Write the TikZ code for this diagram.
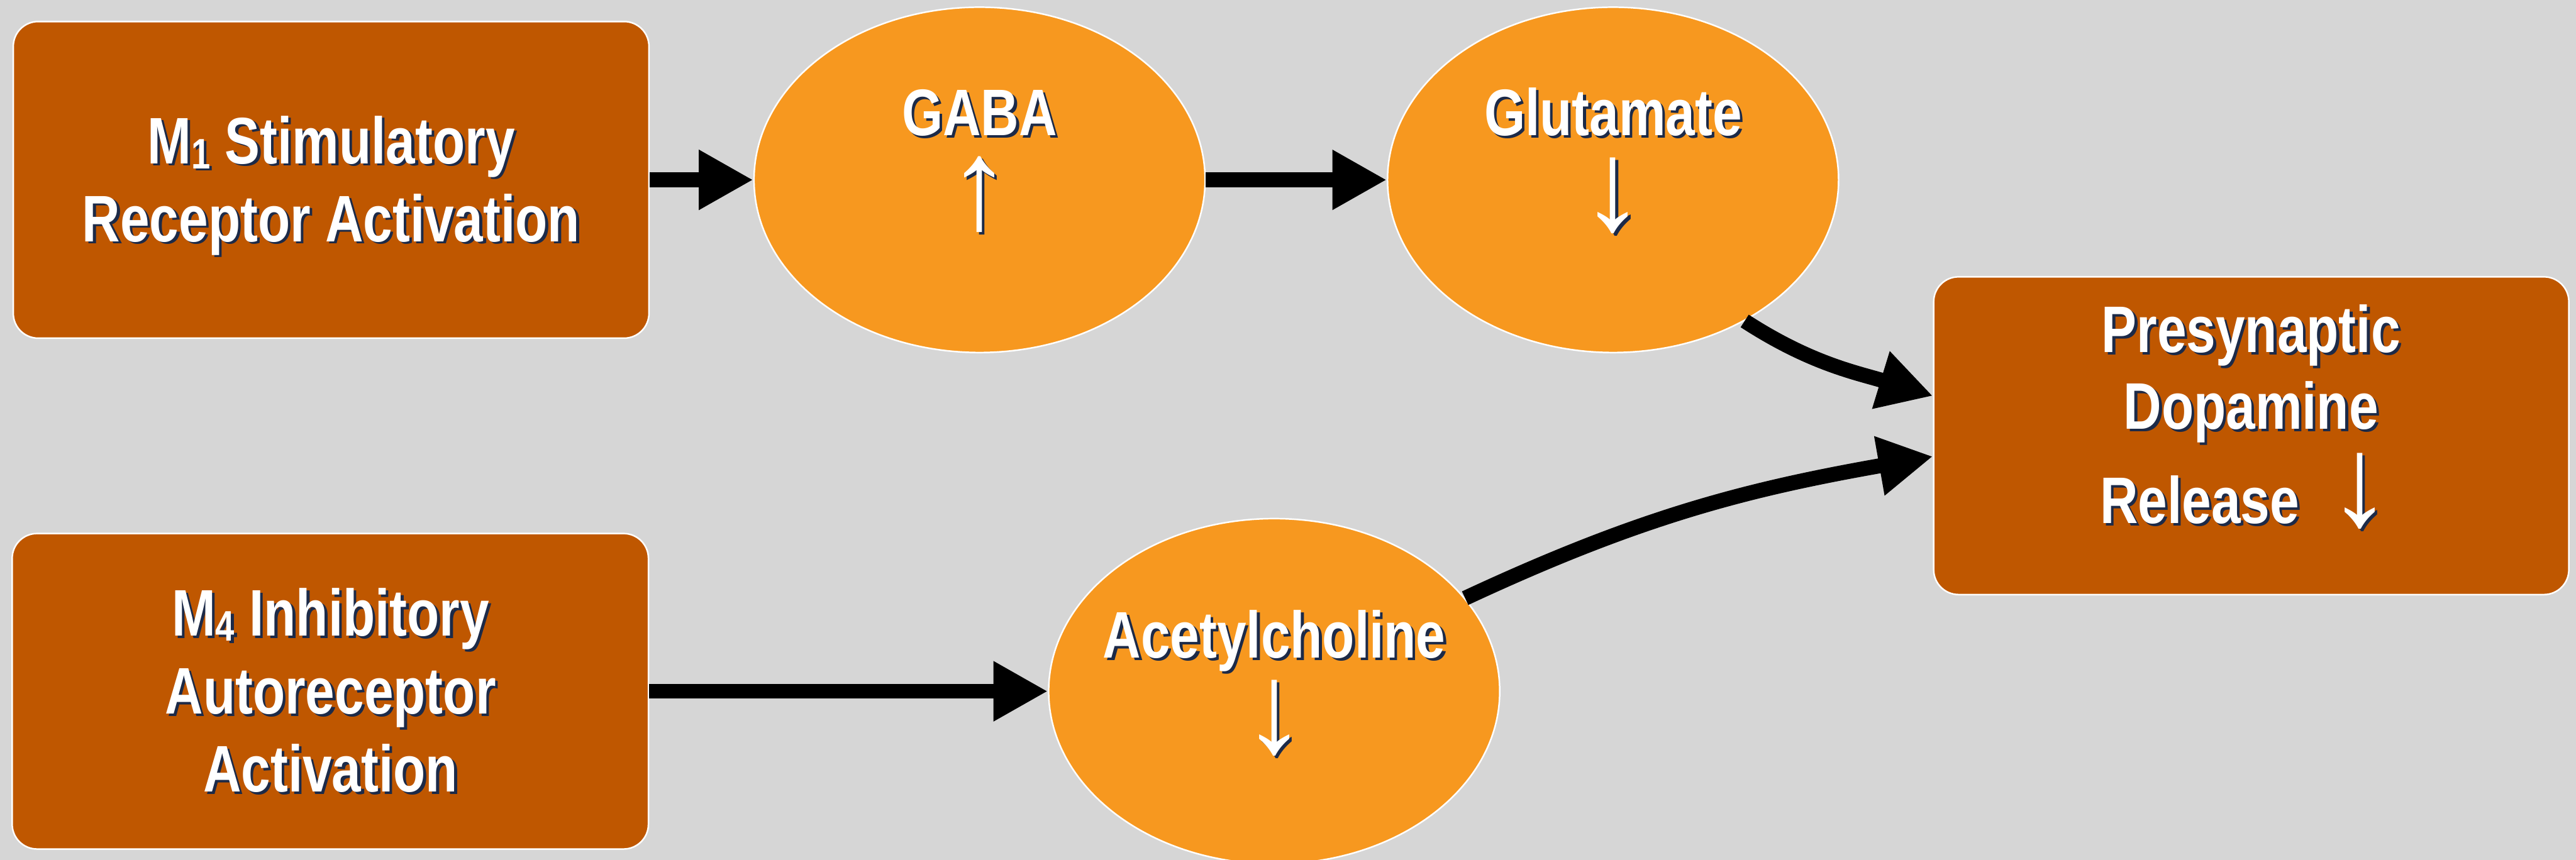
\documentclass[tikz,border=0pt]{standalone}
\usepackage{fontspec}
\usetikzlibrary{shapes.geometric,arrows.meta,calc}
\newfontfamily\lblfont{Liberation Sans}[FakeStretch=0.8]
\newfontfamily\arrfont{Liberation Serif}
\definecolor{bg}{HTML}{D6D6D6}
\definecolor{boxc}{HTML}{BF5700}
\definecolor{ellc}{HTML}{F7981F}
\definecolor{shadowc}{HTML}{1C2A48}
\newcommand\shd[1]{\leavevmode\rlap{\hspace{1.4pt}\raisebox{-1.2pt}{\color{shadowc}#1}}#1}
\newcommand\subd[1]{\raisebox{-2.6pt}{\fontsize{22pt}{22pt}\selectfont #1}}
\begin{document}
\begin{tikzpicture}[x=1cm,y=1cm,
 boxn/.style={rectangle, rounded corners=0.45cm, fill=boxc, draw=white, line width=0.8pt, inner sep=0pt},
 elln/.style={ellipse, fill=ellc, draw=white, line width=0.8pt, inner sep=0pt, minimum width=8.16cm, minimum height=6.25cm},
 lbl/.style={text=white, font=\lblfont\bfseries\fontsize{33.9pt}{40pt}\selectfont, inner sep=0pt, anchor=base},
 arr/.style={text=white, font=\arrfont\fontsize{66pt}{66pt}\selectfont, inner sep=0pt},
 conn/.style={line width=7.7pt, -{Triangle[width=29pt,length=28pt]}}
]
\fill[bg] (0,0) rectangle (46.60,-15.56);
\useasboundingbox (0,0) rectangle (46.60,-15.56);
\node[boxn, minimum width=11.50cm, minimum height=5.73cm] (m1) at (5.99,-3.255) {};
\node[boxn, minimum width=11.51cm, minimum height=5.71cm] (m4) at (5.975,-12.51) {};
\node[boxn, minimum width=11.49cm, minimum height=5.75cm] (pre) at (40.725,-7.885) {};
\node[elln] (gaba) at (17.72,-3.255) {};
\node[elln] (glut) at (29.18,-3.255) {};
\node[elln] (ach) at (23.05,-12.51) {};
\node[lbl] (m1a) at (5.99,-2.96) {\shd{M\subd{1} Stimulatory}};
\node[lbl] (m1b) at (5.99,-4.37) {\shd{Receptor Activation}};
\node[lbl] (m4a) at (5.98,-11.51) {\shd{M\subd{4} Inhibitory}};
\node[lbl] (m4b) at (5.98,-12.92) {\shd{Autoreceptor}};
\node[lbl] (m4c) at (5.98,-14.33) {\shd{Activation}};
\node[lbl] (gabaT) at (17.72,-2.45) {\shd{GABA}};
\node[arr] (gabaA) at (17.72,-3.54) {\shd{↑}};
\node[lbl] (glutT) at (29.18,-2.45) {\shd{Glutamate}};
\node[arr] (glutA) at (29.18,-3.56) {\shd{↓}};
\node[lbl] (achT) at (23.05,-11.91) {\shd{Acetylcholine}};
\node[arr] (achA) at (23.05,-13.02) {\shd{↓}};
\node[lbl] (preA) at (40.72,-6.38) {\shd{Presynaptic}};
\node[lbl] (preB) at (40.72,-7.77) {\shd{Dopamine}};
\node[lbl] (preC) at (39.79,-9.47) {\shd{Release}};
\node[arr] (preD) at (42.69,-8.91) {\shd{↓}};
\draw[conn] (m1.east) -- (gaba.west);
\draw[conn] (gaba.east) -- (glut.west);
\draw[conn] (m4.east) -- (ach.west);
\coordinate (pin1) at ($(pre.west)+(0,0.72)$);
\coordinate (pin2) at ($(pre.west)+(0,-0.375)$);
\draw[conn] (glut.-47) to[out=-33,in=163] (pin1);
\draw[conn] (ach.26) to[out=25,in=190] (pin2);
\end{tikzpicture}
\end{document}
